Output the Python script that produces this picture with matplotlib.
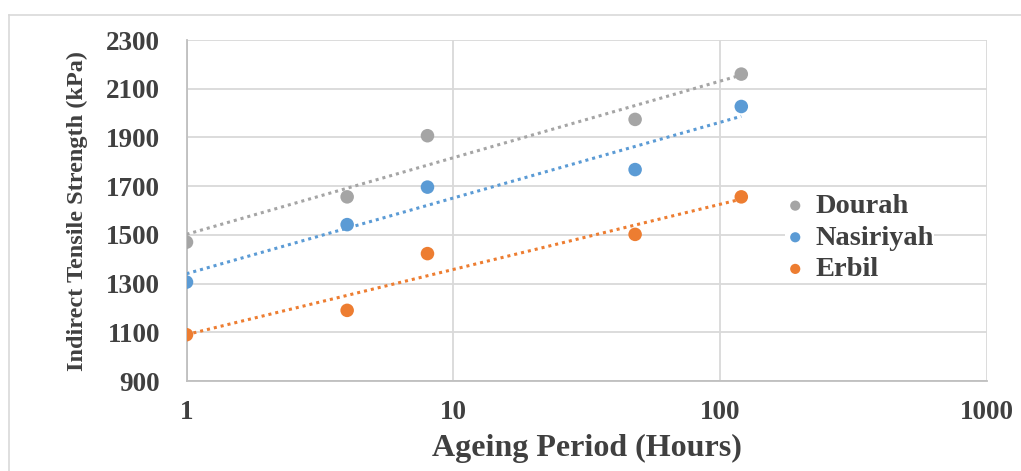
import numpy as np
import matplotlib
matplotlib.use("Agg")
import matplotlib.pyplot as plt
from matplotlib.lines import Line2D

# ageing period (hours) and ITS values (kPa)
hours = [1, 4, 8, 48, 120]
dourah = [1470, 1656, 1907, 1974, 2160]
nasiriyah = [1306, 1542, 1696, 1768, 2027]
erbil = [1090, 1190, 1423, 1502, 1656]

names = ["Dourah", "Nasiriyah", "Erbil"]
colors = ["#a5a5a5", "#5b9bd5", "#ed7d31"]
txt = "#404040"

plt.rcParams["font.family"] = ["Liberation Serif", "DejaVu Serif"]
plt.rcParams["font.weight"] = "bold"
plt.rcParams["axes.labelweight"] = "bold"

fig = plt.figure(figsize=(10.21, 4.71), dpi=100)
ax = fig.add_axes([186.5 / 1021, 1 - 381 / 471, (987 - 186.5) / 1021, (381 - 40) / 471])

# outer chart border (only left and top visible)
fig.add_artist(Line2D([9 / 1021, 9 / 1021], [0, 1 - 15 / 471], transform=fig.transFigure, color="#d9d9d9", lw=1.2))
fig.add_artist(Line2D([9 / 1021, 1], [1 - 15 / 471, 1 - 15 / 471], transform=fig.transFigure, color="#d9d9d9", lw=1.2))

x = np.array(hours, dtype=float)
handles = []
for name, ys, c in zip(names, [dourah, nasiriyah, erbil], colors):
    ys = np.array(ys, dtype=float)
    # logarithmic trendline
    a, b = np.polyfit(np.log(x), ys, 1)
    xt = np.logspace(0, np.log10(x.max()), 100)
    ax.plot(xt, a * np.log(xt) + b, color=c, lw=2.2, ls=(0, (1, 1.3)), zorder=3)
    h = ax.scatter(x, ys, s=95, color=c, zorder=4, label=name, edgecolors="none")
    handles.append(h)

ax.set_xscale("log")
ax.set_xlim(1, 1000)
ax.set_ylim(900, 2300)
ax.set_yticks(np.arange(900, 2301, 200))
ax.set_xticks([1, 10, 100, 1000])
ax.set_xticklabels(["1", "10", "100", "1000"])
ax.minorticks_off()

ax.grid(True, color="#d9d9d9", lw=1.3, zorder=0)
ax.set_axisbelow(True)
for s in ["top", "right"]:
    ax.spines[s].set_visible(False)
for s in ["left", "bottom"]:
    ax.spines[s].set_color("#bfbfbf")
    ax.spines[s].set_linewidth(1.3)
ax.tick_params(length=0, labelsize=19.5, colors=txt)
ax.tick_params(axis="y", pad=19)
ax.tick_params(axis="x", pad=14)

ax.set_xlabel("Ageing Period (Hours)", fontsize=23, color=txt, labelpad=6)
ax.set_ylabel("Indirect Tensile Strength (kPa)", fontsize=17.5, color=txt, labelpad=13)

leg = ax.legend(handles=handles, loc="center left", bbox_to_anchor=(0.748, 0.42),
                frameon=True, fontsize=20.5, handlelength=0.7, handletextpad=0.35,
                labelspacing=0.2, borderpad=0.0, borderaxespad=0,
                markerscale=0.75, scatterpoints=1)
leg.get_frame().set_edgecolor("none")
leg.get_frame().set_facecolor("white")
leg.get_frame().set_alpha(1)
for t in leg.get_texts():
    t.set_color(txt)

fig.savefig("out.png", dpi=100)
